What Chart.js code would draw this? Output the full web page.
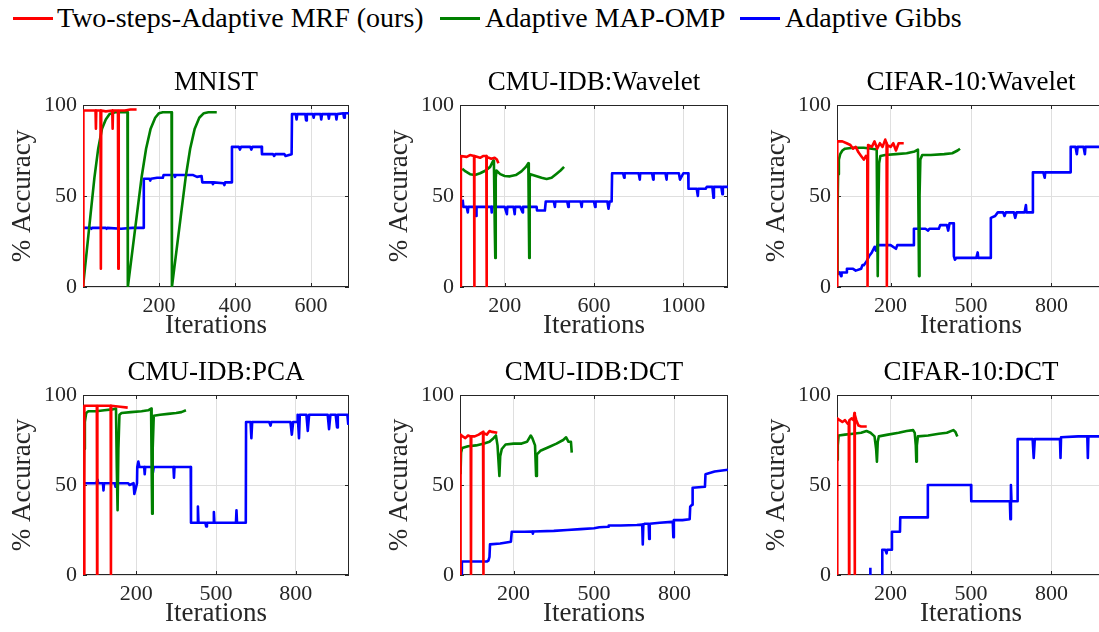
<!DOCTYPE html>
<html>
<head>
<meta charset="utf-8">
<script src="https://cdn.jsdelivr.net/npm/chart.js@4.4.1/dist/chart.umd.min.js"></script>
<style>
  html, body { margin: 0; padding: 0; background: #fff; }
  body { width: 1099px; height: 632px; position: relative; overflow: hidden; font-family: "Liberation Serif", serif; }
  .panel { position: absolute; }
  .key { position: absolute; top: 17px; width: 40px; height: 3px; }
  .label { position: absolute; top: 4px; font-size: 28px; line-height: 28px; color: #000; white-space: nowrap; }
</style>
</head>
<body>
<script>
// ---- data: [iteration, % accuracy] ----
const seriesNames = ['Two-steps-Adaptive MRF (ours)', 'Adaptive MAP-OMP', 'Adaptive Gibbs'];
const seriesColors = ['#ff0000', '#008000', '#0000ff'];

const titles = ['MNIST', 'CMU-IDB:Wavelet', 'CIFAR-10:Wavelet', 'CMU-IDB:PCA', 'CMU-IDB:DCT', 'CIFAR-10:DCT'];
const xMax = [700, 1200, 1000, 1000, 1000, 1000];
const xTicks = [[200, 400, 600], [200, 600, 1000], [200, 500, 800], [200, 500, 800], [200, 500, 800], [200, 500, 800]];
const yTicks = [0, 50, 100];

const mnistMrf = [[0,0],[1,97],[20,97],[33,97],[34,87],[35,97],[46,97],[47,10],[48,97],[60,96.5],[77,97],[78,87],[79,97],[92,97],[93,10],[94,97],[110,97],[125,97.5],[141,97.5]];
const mnistOmp = [[0,0],[10,20],[20,40],[30,60],[40,76],[50,87],[60,92],[70,95],[85,96],[100,96],[117,96],[118,0],[130,20],[142,40],[154,60],[166,76],[178,87],[190,93],[200,95.5],[210,96],[233,96],[234,0],[246,20],[258,40],[270,60],[282,76],[294,87],[306,93],[318,95.5],[330,96],[352,96]];
const mnistGibbs = [[2,32.5],[20,32.5],[22,32],[24,32.5],[60,32.5],[62,32],[64,32.5],[100,32],[130,32.5],[158,32.5],[160,59.5],[175,59.5],[177,58.5],[179,59.5],[195,60],[210,60],[212,61.5],[240,61.5],[242,60.5],[244,61.5],[270,61.5],[290,61.5],[300,60.5],[312,61],[314,57.5],[340,57.5],[342,56.5],[344,57.5],[370,57],[372,56],[374,57.5],[391,57.5],[392,77],[410,77],[413,75.5],[416,77],[440,77],[443,75.5],[446,77],[470,77],[471,73],[500,73],[503,72],[506,73],[530,73],[533,72],[549,73],[550,95],[560,95],[562,92],[564,95],[585,95],[587,91.5],[589,95],[605,95],[607,93],[609,95],[625,95],[627,92],[629,95],[645,95],[647,92.5],[649,95],[665,95],[667,92],[669,95],[685,95.5],[687,93],[689,95.5],[700,95.5]];

const cmuWavMrf = [[3,0],[4,72],[30,71.5],[45,72.5],[63,72],[64,0],[65,72],[90,71],[105,72],[118,72],[119,0],[120,71.5],[140,70.5],[155,71],[165,70],[172,68]];
const cmuWavOmp = [[10,65],[25,63.5],[45,62],[67,61.5],[90,62.5],[115,64],[135,66],[149,69.5],[152,67],[156,30],[158,16],[160,60],[163,64],[180,62],[200,61],[224,60.8],[250,61.5],[275,63.5],[295,66],[306,68],[308,40],[310,16],[312,60],[315,62],[340,61],[365,60],[388,59.3],[410,60],[430,62],[450,64],[466,66]];
const cmuWavGibbs = [[12,48],[15,44],[30,44],[35,41],[37,44],[60,44],[70,44],[72,39],[74,44],[100,44],[140,44],[142,41],[144,44],[200,44],[210,40],[212,44],[240,44],[245,40],[247,44],[270,44],[280,41],[282,44],[343,44],[345,42],[380,42],[384,47],[420,47],[425,44],[427,47],[480,47],[485,44],[487,47],[540,47],[545,44],[547,47],[600,47],[605,44],[607,47],[660,47],[665,43],[670,47],[679,47],[681,62.5],[730,62.5],[735,60],[737,62.5],[800,62.5],[805,59],[807,62.5],[860,62.5],[865,59],[867,62.5],[920,62.5],[925,59],[927,62.5],[980,62.5],[985,59],[1000,62.5],[1022,62.5],[1023,54],[1060,54],[1065,50],[1067,54],[1100,54],[1105,55],[1130,55],[1135,49],[1137,55],[1170,55],[1175,51],[1177,55],[1200,55]];

const cifarWavMrf = [[0,0],[1,80],[20,80],[36,79],[50,78],[60,76],[70,77],[80,74],[90,72],[100,70],[108,72],[113,70],[114,0],[116,78],[130,77],[140,80],[150,76],[160,79],[170,77],[180,81],[185,79],[186,0],[188,78],[200,77],[210,79],[220,75],[230,79],[249,79]];
const cifarWavOmp = [[1,7],[2,40],[4,62],[7,70],[12,73],[20,75],[30,76],[60,76.5],[100,76.5],[130,76],[148,75.5],[150,40],[152,6],[154,40],[157,68],[162,72],[180,72.5],[220,73],[260,73.5],[290,74.5],[302,75.5],[304,40],[306,6],[308,50],[311,70],[318,72.5],[350,72.5],[400,73],[430,73.5],[450,75],[459,76]];
const cifarWavGibbs = [[0,7],[10,8],[15,6],[17,8],[36,8],[37,10],[60,10],[70,9],[90,10],[95,12],[100,12],[110,14],[120,17],[130,19],[140,22],[145,20],[150,23],[200,23],[220,21],[225,23],[286,23],[287,32],[330,32],[340,31],[345,32],[380,32],[385,34],[410,34],[415,31],[420,35],[435,35],[436,17],[440,15],[445,16],[520,16],[525,19],[527,16],[573,16],[574,38],[590,39],[600,41],[620,41],[625,39],[630,41],[660,41],[665,38],[670,41],[700,41],[705,45],[707,41],[730,41],[731,63],[770,63],[775,60],[777,63],[871,63],[872,77],[890,77],[895,73],[898,77],[920,77],[925,73],[927,77],[1000,77]];

const cmuPcaMrf = [[4,0],[5,94],[30,94],[52,94],[53,0],[54,94],[80,94],[104,94],[105,0],[106,94],[140,93.5],[168,93]];
const cmuPcaOmp = [[2,38],[4,70],[7,85],[12,90],[20,91],[50,91],[80,91.5],[110,92],[124,92.5],[127,60],[130,36],[133,70],[137,89],[145,90],[180,90.5],[220,91],[245,91.5],[256,92.5],[258,60],[260,34],[262,70],[266,88.5],[290,89],[320,89.5],[350,90],[370,90.5],[387,91.5]];
const cmuPcaGibbs = [[0,51],[30,51],[50,51],[55,53],[57,51],[75,51],[77,47],[79,51],[120,51],[122,49],[124,51],[170,51],[175,50],[190,51],[193,45],[198,48],[203,51],[204,60],[208,63],[212,60],[230,60],[232,56],[234,60],[260,60],[263,57],[266,60],[300,60],[340,60],[342,54],[344,60],[380,60],[405,60],[406,29],[430,29],[432,38],[434,29],[460,29],[463,27],[466,29],[490,29],[492,35],[494,29],[560,29],[575,29],[577,36],[579,29],[612,29],[613,85],[630,85],[633,76],[636,85],[700,85],[705,83],[708,85],[760,85],[780,85],[785,78],[790,85],[806,85],[807,89],[812,76],[815,89],[840,89],[845,80],[850,89],[900,89],[920,89],[925,81],[930,89],[950,89],[955,82],[958,89],[994,89],[997,84],[1000,88]];

const cmuDctMrf = [[1,0],[2,78],[10,77],[20,76],[30,77.5],[40,77],[41,0],[42,77],[55,77],[70,78],[80,79],[86,79.5],[87,0],[88,79],[100,78],[110,80],[120,79.5],[139,79]];
const cmuDctOmp = [[2,56],[4,68],[8,70.5],[30,71.5],[60,72],[90,73],[110,74],[125,76],[134,77.5],[140,72],[147,55],[150,66],[156,70],[170,72.5],[200,73],[230,73],[250,74],[264,77.5],[270,76],[280,72],[284,55],[287,67],[300,69],[330,71],[360,73],[385,75],[396,76.5],[405,74],[414,74],[417,68]];
const cmuDctGibbs = [[6,0],[7,7.5],[50,7.5],[100,7.5],[106,8],[110,10],[112,17],[150,17.5],[190,18.5],[193,24],[240,24],[270,24.2],[272,23],[274,24.2],[350,24.5],[400,25],[450,25.5],[500,26],[520,26.5],[553,26.8],[555,27.5],[600,27.5],[660,27.8],[680,28],[682,17],[684,28],[690,28.5],[704,28.5],[706,20],[708,28.5],[745,29],[790,29.5],[794,29.5],[796,21],[798,30.5],[830,30.5],[857,31],[859,38],[866,39],[868,48.5],[914,49],[916,56],[950,57.5],[1000,58.5]];

const cifarDctMrf = [[0,0],[1,87],[10,86],[20,85],[30,86],[40,84],[44,84],[45,0],[46,86],[55,87],[62,86],[65,90],[66,0],[67,89],[72,86],[80,83],[90,82.5],[111,82.5]];
const cifarDctOmp = [[1,64],[3,72],[6,77.5],[30,78],[60,78.5],[90,79],[110,80],[125,79],[140,77],[146,70],[149,63],[152,74],[156,77],[190,78],[230,79],[260,80],[284,80.5],[290,79],[294,72],[296,63],[298,72],[302,77],[340,77.5],[380,78.5],[410,79],[434,80.5],[442,79.5],[449,77]];
const cifarDctGibbs = [[124,0],[124.5,4],[126,null],[168,0],[169,14],[180,14],[185,12],[187,14],[204,14],[205,24],[235,24],[236,32],[300,32],[338,32],[339,50],[420,50],[500,50],[501,41],[600,41],[645,41],[647,31],[649,50],[651,41],[673,41],[674,75.5],[730,75.5],[734,65],[738,75.5],[800,75.5],[832,75.5],[834,65],[836,76.5],[900,77],[934,77],[936,65],[938,77],[1000,77]];

const panelSeries = [
  [mnistMrf, mnistOmp, mnistGibbs],
  [cmuWavMrf, cmuWavOmp, cmuWavGibbs],
  [cifarWavMrf, cifarWavOmp, cifarWavGibbs],
  [cmuPcaMrf, cmuPcaOmp, cmuPcaGibbs],
  [cmuDctMrf, cmuDctOmp, cmuDctGibbs],
  [cifarDctMrf, cifarDctOmp, cifarDctGibbs],
];

// ---- layout (page pixels of each plot box) ----
const colLeft = [83, 460, 837];
const colWidth = [266, 268, 268];
const rowTop = [105, 395];
const rowHeight = [182, 180];
const padL = 83, padT = 58, padB = 58, padR = 12;

const FONT = '"Liberation Serif", serif';
const AXIS = '#262626';
const GRID = '#dfdfdf';

// legend across the top
const keyLeft = [13, 440, 740];
const labelLeft = [57, 485, 785];
seriesNames.forEach((name, i) => {
  const k = document.createElement('div');
  k.className = 'key';
  k.style.left = keyLeft[i] + 'px';
  k.style.background = seriesColors[i];
  document.body.appendChild(k);
  const t = document.createElement('div');
  t.className = 'label';
  t.style.left = labelLeft[i] + 'px';
  t.textContent = name;
  document.body.appendChild(t);
});

// MATLAB style box with inward tick marks
const axesBox = {
  id: 'axesBox',
  beforeDatasetsDraw(chart) {
    const { ctx, chartArea: a, scales } = chart;
    ctx.save();
    ctx.strokeStyle = AXIS;
    ctx.lineWidth = 1;
    ctx.strokeRect(a.left + 0.5, a.top + 0.5, a.width - 1, a.height - 1);
    ctx.beginPath();
    scales.x.ticks.forEach(t => {
      const px = Math.round(scales.x.getPixelForValue(t.value)) + 0.5;
      ctx.moveTo(px, a.bottom); ctx.lineTo(px, a.bottom - 4);
      ctx.moveTo(px, a.top); ctx.lineTo(px, a.top + 4);
    });
    scales.y.ticks.forEach(t => {
      const py = Math.round(scales.y.getPixelForValue(t.value)) + 0.5;
      ctx.moveTo(a.left, py); ctx.lineTo(a.left + 4, py);
      ctx.moveTo(a.right, py); ctx.lineTo(a.right - 4, py);
    });
    ctx.stroke();
    ctx.restore();
  }
};

function drawPanels() {
  Chart.defaults.font.family = FONT;
  titles.forEach((title, i) => {
    const col = i % 3, row = Math.floor(i / 3);
    const w = padL + colWidth[col] + padR;
    const h = padT + rowHeight[row] + padB;
    const holder = document.createElement('div');
    holder.className = 'panel';
    holder.style.left = (colLeft[col] - padL) + 'px';
    holder.style.top = (rowTop[row] - padT) + 'px';
    const canvas = document.createElement('canvas');
    canvas.width = w;
    canvas.height = h;
    holder.appendChild(canvas);
    document.body.appendChild(holder);

    new Chart(canvas, {
      type: 'line',
      data: {
        datasets: panelSeries[i].map((pts, s) => ({
          label: seriesNames[s],
          data: pts.map(p => ({ x: p[0], y: p[1] })),
          borderColor: seriesColors[s],
          backgroundColor: seriesColors[s],
          borderWidth: 2.6,
          borderJoinStyle: 'round',
          pointRadius: 0,
          tension: 0,
          spanGaps: false,
        })),
      },
      options: {
        responsive: false,
        animation: false,
        devicePixelRatio: 1,
        layout: { padding: { left: 0, top: 0, right: padR, bottom: 0 } },
        plugins: {
          legend: { display: false },
          tooltip: { enabled: false },
          title: {
            display: true,
            text: title,
            fullSize: false,
            color: '#000',
            font: { family: FONT, size: 27, weight: 'normal', lineHeight: 1 },
            padding: { top: 22, bottom: padT - 22 - 27 },
          },
        },
        scales: {
          x: {
            type: 'linear',
            min: 0,
            max: xMax[i],
            afterBuildTicks: s => { s.ticks = xTicks[i].map(v => ({ value: v })); },
            afterFit: s => { s.height = padB; },
            grid: { color: GRID, lineWidth: 1, drawTicks: false },
            border: { display: false },
            ticks: { color: AXIS, font: { family: FONT, size: 22 }, padding: 6, maxRotation: 0, autoSkip: false, callback: v => String(v) },
            title: { display: true, text: 'Iterations', color: AXIS, font: { family: FONT, size: 27, lineHeight: 1 }, padding: { top: 0, bottom: 6 } },
          },
          y: {
            min: 0,
            max: 100,
            afterBuildTicks: s => { s.ticks = yTicks.map(v => ({ value: v })); },
            afterFit: s => { s.width = padL; },
            grid: { color: GRID, lineWidth: 1, drawTicks: false },
            border: { display: false },
            ticks: { color: AXIS, font: { family: FONT, size: 22 }, padding: 6, callback: v => String(v) },
            title: { display: true, text: '% Accuracy', color: AXIS, font: { family: FONT, size: 27, lineHeight: 1 }, padding: { top: 9, bottom: 0 } },
          },
        },
      },
      plugins: [axesBox],
    });
  });
}

Promise.all([
  document.fonts.load('22px "Liberation Serif"'),
  document.fonts.load('27px "Liberation Serif"'),
]).then(drawPanels, drawPanels);
</script>
</body>
</html>
